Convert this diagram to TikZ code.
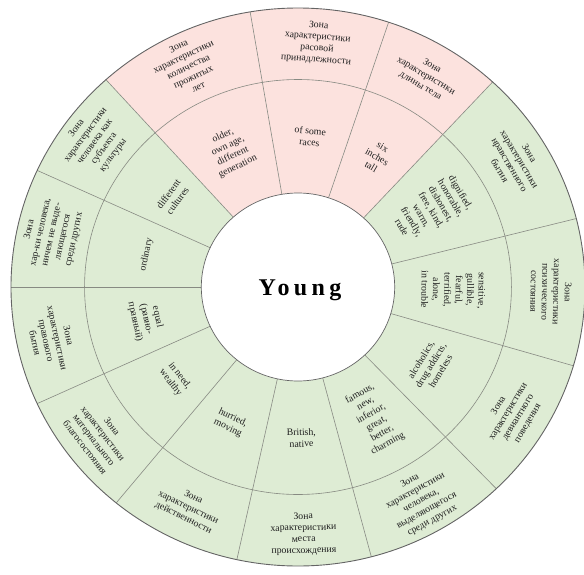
\documentclass[tikz,border=0pt]{standalone}
\usepackage{fontspec}
\setmainfont{Liberation Serif}
\definecolor{pinkz}{RGB}{252,226,222}
\definecolor{greenz}{RGB}{222,236,212}
\definecolor{linez}{RGB}{135,138,130}
\definecolor{rimz}{RGB}{100,100,100}
\begin{document}
\begin{tikzpicture}[x=1pt,y=1pt,
  lab/.style={align=center, font=\fontsize{9.8}{11.4}\selectfont, inner sep=0pt, text=black!88},
  title/.style={font=\fontsize{24}{28}\selectfont\bfseries\addfontfeatures{LetterSpace=18}, inner sep=0pt}
]
\useasboundingbox (-298,-287) rectangle (286,287);
\begin{scope}[xscale=1.0287]
  % segments
  \foreach \a/\b/\c in {14.2/47.3/greenz, 47.3/71.6/pinkz, 71.6/99.6/pinkz, 99.6/132/pinkz,
     132/155.3/greenz, 155.3/180/greenz, 180/204.7/greenz, 204.7/230.7/greenz,
     230.7/257.7/greenz, 257.7/284.8/greenz, 284.8/313.7/greenz, 313.7/343.6/greenz,
     343.6/374.2/greenz}
    \fill[\c] (\a:94) -- (\a:279) arc[start angle=\a, end angle=\b, radius=279]
      -- (\b:94) arc[start angle=\b, end angle=\a, radius=94] -- cycle;
  % radial lines
  \foreach \a in {14.2,47.3,71.6,99.6,132,155.3,180,204.7,230.7,257.7,284.8,313.7,343.6}
    \draw[linez, line width=0.6] (\a:94) -- (\a:279);
  \draw[linez, line width=0.6] (0,0) circle[radius=207.5];
  \draw[rimz, line width=0.9] (0,0) circle[radius=279];
  \draw[rimz, line width=0.7, fill=white] (0,0) circle[radius=94];

  % outer ring labels
  \node[lab, rotate=25.8]  (o1)  at (115.8:245) {Зона\\характеристики\\количества\\прожитых\\лет};
  \node[lab, rotate=-4.4]  (o2)  at (85.6:245)  {Зона\\характеристики\\расовой\\принадлежности};
  \node[lab, rotate=-30.5] (o3)  at (59.45:245) {Зона\\характеристики\\длины тела};
  \node[lab, rotate=-59.25](o4)  at (30.75:245) {Зона\\характеристики\\нравственного\\бытия};
  \node[lab, rotate=-91.1] (o5)  at (-1.1:246)  {Зона\\характеристики\\психического\\состояния};
  \node[lab, rotate=58.65] (o6)  at (-31.35:245){Зона\\характеристики\\девиантного\\поведения};
  \node[lab, rotate=29.25] (o7)  at (-60.75:245){Зона\\характеристики\\человека,\\выделяющегося\\среди других};
  \node[lab, rotate=1.25]  (o8)  at (-88.75:247){Зона\\характеристики\\места\\происхождения};
  \node[lab, rotate=-25.8] (o9)  at (244.2:245) {Зона\\характеристики\\действенности};
  \node[lab, rotate=-52.3] (o10) at (217.7:245) {Зона\\характеристики\\материального\\благосостояния};
  \node[lab, rotate=-77.65](o11) at (192.35:245){Зона\\характеристики\\правового\\бытия};
  \node[lab, rotate=77.65] (o12) at (167.65:245){Зона\\хар-ки человека,\\ничем не выде-\\ляющегося\\среди других};
  \node[lab, rotate=53.65] (o13) at (143.65:245){Зона\\характеристики\\человека как\\субъекта\\культуры};

  % inner ring labels
  \node[lab, rotate=25.8]  (i1)  at (115.8:151) {older,\\own age,\\different\\generation};
  \node[lab, rotate=-4.4]  (i2)  at (85.6:151)  {of some\\races};
  \node[lab, rotate=-30.5] (i3)  at (59.45:151) {six\\inches\\tall};
  \node[lab, rotate=-59.25](i4)  at (30.75:151) {dignified,\\honorable,\\dishonest,\\free, kind,\\warm,\\friendly,\\rude};
  \node[lab, rotate=-91.1] (i5)  at (-1.1:151)  {sensitive,\\gullible,\\fearful,\\terrified,\\alone,\\in trouble};
  \node[lab, rotate=58.65] (i6)  at (-31.35:151){alcoholics,\\drug addicts,\\homeless};
  \node[lab, rotate=29.25] (i7)  at (-60.75:151){famous,\\new,\\inferior,\\great,\\better,\\charming};
  \node[lab, rotate=1.25]  (i8)  at (-88.75:151){British,\\native};
  \node[lab, rotate=-25.8] (i9)  at (244.2:151) {hurried,\\moving};
  \node[lab, rotate=-52.3] (i10) at (217.7:151) {in need,\\wealthy};
  \node[lab, rotate=-77.65](i11) at (192.35:151){equal\\(равно-\\правный)};
  \node[lab, rotate=77.65] (i12) at (167.65:151){ordinary};
  \node[lab, rotate=53.65] (i13) at (143.65:151){different\\cultures};
\end{scope}
\node[title] (young) at (2,-3) {Young};
\end{tikzpicture}
\end{document}
